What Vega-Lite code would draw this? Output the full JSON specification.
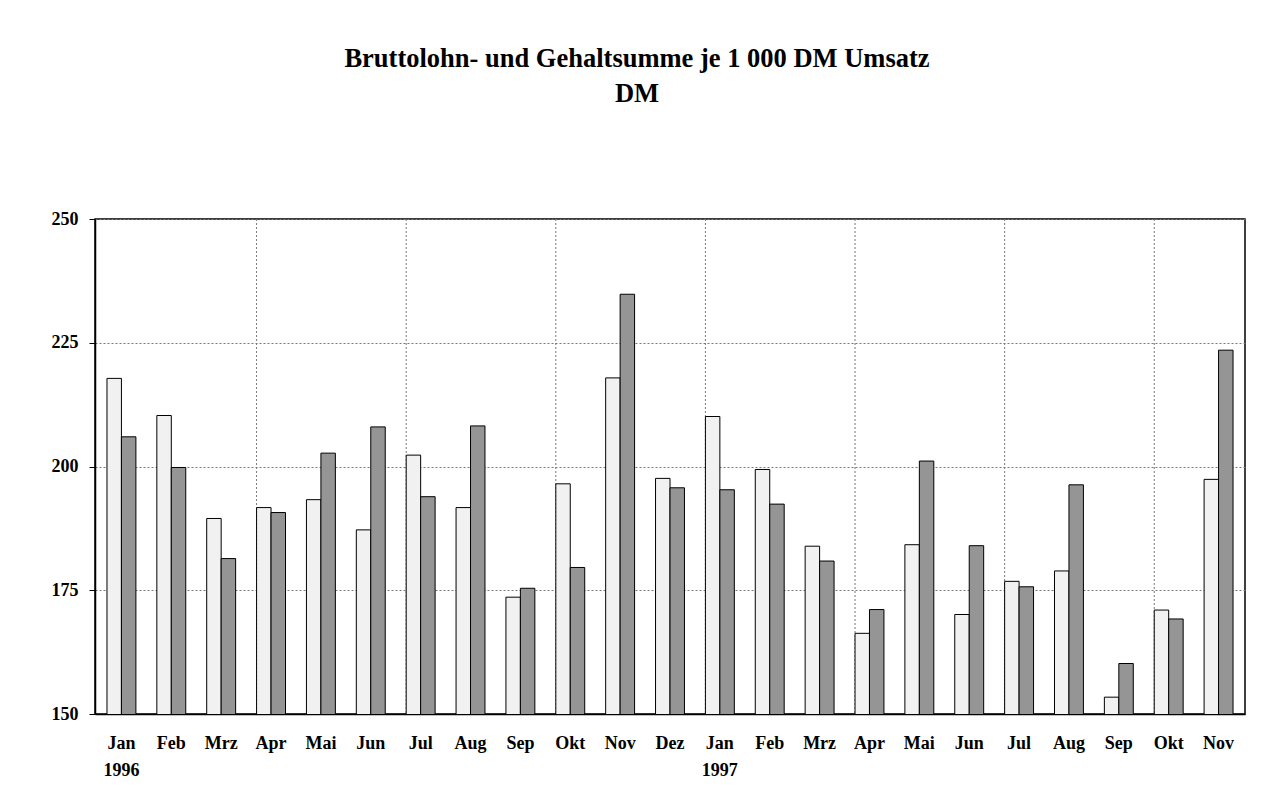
{
  "$schema": "https://vega.github.io/schema/vega-lite/v6.json",
  "autosize": {"type": "none"},
  "width": 1150,
  "height": 495,
  "padding": {"left": 95, "top": 219, "right": 17, "bottom": 77},
  "background": "white",
  "title": {
    "text": ["Bruttolohn- und Gehaltsumme je 1 000 DM Umsatz", "DM"],
    "font": "Liberation Serif",
    "fontSize": 26.5,
    "fontWeight": "bold",
    "color": "black",
    "lineHeight": 35,
    "anchor": "middle",
    "dx": -33,
    "offset": 103
  },
  "datasets": {
    "werte": [
      {"monat": "Jan 1996", "reihe": "Reihe 1", "wert": 217.8},
      {"monat": "Jan 1996", "reihe": "Reihe 2", "wert": 206.0},
      {"monat": "Feb 1996", "reihe": "Reihe 1", "wert": 210.3},
      {"monat": "Feb 1996", "reihe": "Reihe 2", "wert": 199.8},
      {"monat": "Mrz 1996", "reihe": "Reihe 1", "wert": 189.5},
      {"monat": "Mrz 1996", "reihe": "Reihe 2", "wert": 181.4},
      {"monat": "Apr 1996", "reihe": "Reihe 1", "wert": 191.7},
      {"monat": "Apr 1996", "reihe": "Reihe 2", "wert": 190.7},
      {"monat": "Mai 1996", "reihe": "Reihe 1", "wert": 193.3},
      {"monat": "Mai 1996", "reihe": "Reihe 2", "wert": 202.7},
      {"monat": "Jun 1996", "reihe": "Reihe 1", "wert": 187.2},
      {"monat": "Jun 1996", "reihe": "Reihe 2", "wert": 208.0},
      {"monat": "Jul 1996", "reihe": "Reihe 1", "wert": 202.3},
      {"monat": "Jul 1996", "reihe": "Reihe 2", "wert": 193.9},
      {"monat": "Aug 1996", "reihe": "Reihe 1", "wert": 191.7},
      {"monat": "Aug 1996", "reihe": "Reihe 2", "wert": 208.2},
      {"monat": "Sep 1996", "reihe": "Reihe 1", "wert": 173.6},
      {"monat": "Sep 1996", "reihe": "Reihe 2", "wert": 175.4},
      {"monat": "Okt 1996", "reihe": "Reihe 1", "wert": 196.5},
      {"monat": "Okt 1996", "reihe": "Reihe 2", "wert": 179.6},
      {"monat": "Nov 1996", "reihe": "Reihe 1", "wert": 217.9},
      {"monat": "Nov 1996", "reihe": "Reihe 2", "wert": 234.8},
      {"monat": "Dez 1996", "reihe": "Reihe 1", "wert": 197.6},
      {"monat": "Dez 1996", "reihe": "Reihe 2", "wert": 195.7},
      {"monat": "Jan 1997", "reihe": "Reihe 1", "wert": 210.1},
      {"monat": "Jan 1997", "reihe": "Reihe 2", "wert": 195.3},
      {"monat": "Feb 1997", "reihe": "Reihe 1", "wert": 199.4},
      {"monat": "Feb 1997", "reihe": "Reihe 2", "wert": 192.4},
      {"monat": "Mrz 1997", "reihe": "Reihe 1", "wert": 183.9},
      {"monat": "Mrz 1997", "reihe": "Reihe 2", "wert": 180.9},
      {"monat": "Apr 1997", "reihe": "Reihe 1", "wert": 166.3},
      {"monat": "Apr 1997", "reihe": "Reihe 2", "wert": 171.1},
      {"monat": "Mai 1997", "reihe": "Reihe 1", "wert": 184.2},
      {"monat": "Mai 1997", "reihe": "Reihe 2", "wert": 201.1},
      {"monat": "Jun 1997", "reihe": "Reihe 1", "wert": 170.1},
      {"monat": "Jun 1997", "reihe": "Reihe 2", "wert": 184.0},
      {"monat": "Jul 1997", "reihe": "Reihe 1", "wert": 176.8},
      {"monat": "Jul 1997", "reihe": "Reihe 2", "wert": 175.7},
      {"monat": "Aug 1997", "reihe": "Reihe 1", "wert": 178.9},
      {"monat": "Aug 1997", "reihe": "Reihe 2", "wert": 196.3},
      {"monat": "Sep 1997", "reihe": "Reihe 1", "wert": 153.4},
      {"monat": "Sep 1997", "reihe": "Reihe 2", "wert": 160.2},
      {"monat": "Okt 1997", "reihe": "Reihe 1", "wert": 171.0},
      {"monat": "Okt 1997", "reihe": "Reihe 2", "wert": 169.2},
      {"monat": "Nov 1997", "reihe": "Reihe 1", "wert": 197.4},
      {"monat": "Nov 1997", "reihe": "Reihe 2", "wert": 223.5}
    ],
    "raster": [
      {"monat": "Apr 1996"},
      {"monat": "Jul 1996"},
      {"monat": "Okt 1996"},
      {"monat": "Jan 1997"},
      {"monat": "Apr 1997"},
      {"monat": "Jul 1997"},
      {"monat": "Okt 1997"}
    ]
  },
  "encoding": {
    "x": {
      "field": "monat",
      "type": "nominal",
      "scale": {
        "domain": ["Jan 1996", "Feb 1996", "Mrz 1996", "Apr 1996", "Mai 1996", "Jun 1996", "Jul 1996", "Aug 1996", "Sep 1996", "Okt 1996", "Nov 1996", "Dez 1996", "Jan 1997", "Feb 1997", "Mrz 1997", "Apr 1997", "Mai 1997", "Jun 1997", "Jul 1997", "Aug 1997", "Sep 1997", "Okt 1997", "Nov 1997"],
        "paddingInner": 0.42,
        "paddingOuter": 0.24
      },
      "axis": {
        "title": null,
        "labelAngle": 0,
        "labelFont": "Liberation Serif",
        "labelFontSize": 18,
        "labelFontWeight": "bold",
        "labelColor": "black",
        "labelLineHeight": 27,
        "labelPadding": 20,
        "labelExpr": "indexof(datum.value, 'Jan') == 0 ? split(datum.value, ' ') : split(datum.value, ' ')[0]",
        "domainColor": "black",
        "domainWidth": 1.5,
        "ticks": false,
        "grid": false
      }
    }
  },
  "layer": [
    {
      "data": {"name": "raster"},
      "mark": {"type": "rule", "color": "#777777", "strokeDash": [2, 2], "strokeWidth": 1},
      "encoding": {
        "x": {"field": "monat", "type": "nominal", "bandPosition": 0}
      }
    },
    {
      "data": {"name": "werte"},
      "mark": {"type": "bar", "stroke": "black", "strokeWidth": 1, "clip": true},
      "encoding": {
        "xOffset": {"field": "reihe", "type": "nominal", "scale": {"paddingInner": 0, "paddingOuter": 0}},
        "y": {
          "field": "wert",
          "type": "quantitative",
          "scale": {"domain": [150, 250], "zero": false, "nice": false},
          "axis": {
            "title": null,
            "values": [150, 175, 200, 225, 250],
            "labelFont": "Liberation Serif",
            "labelFontSize": 18,
            "labelFontWeight": "bold",
            "labelColor": "black",
            "labelPadding": 11,
            "domainColor": "black",
            "domainWidth": 1.5,
            "tickColor": "black",
            "tickSize": 6,
            "grid": true,
            "gridColor": "#777777",
            "gridDash": [2, 2],
            "gridWidth": 1
          }
        },
        "fill": {
          "field": "reihe",
          "type": "nominal",
          "scale": {"domain": ["Reihe 1", "Reihe 2"], "range": ["#f1f1f1", "#959595"]},
          "legend": null
        }
      }
    }
  ],
  "config": {
    "view": {"stroke": "black", "strokeWidth": 1.5}
  }
}
